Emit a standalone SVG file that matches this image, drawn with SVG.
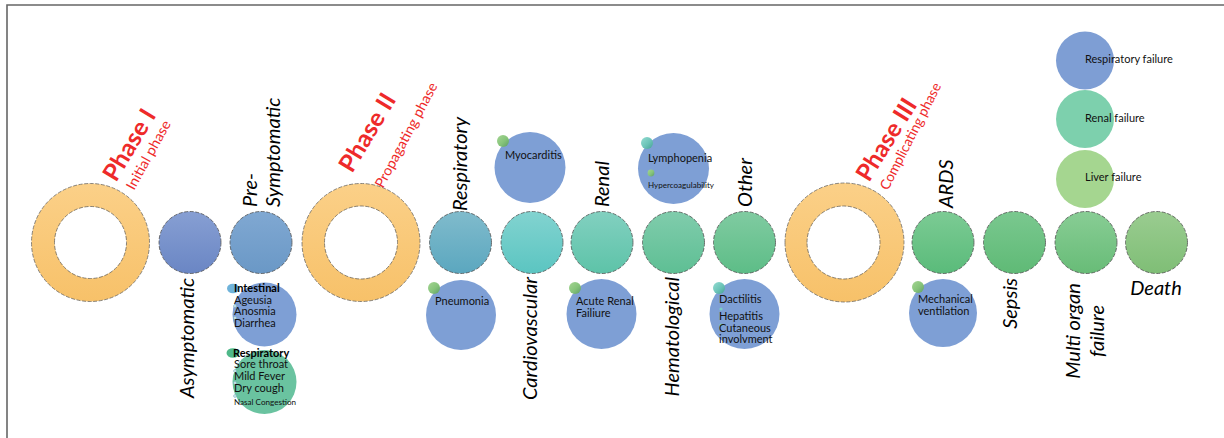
<svg xmlns="http://www.w3.org/2000/svg" width="1224" height="438" viewBox="0 0 1224 438">
<defs>
<linearGradient id="gRing" x1="0" y1="0" x2="0" y2="1"><stop offset="0" stop-color="#FBD088"/><stop offset="1" stop-color="#F7C169"/></linearGradient>
<linearGradient id="gAsym" x1="0" y1="0" x2="0" y2="1"><stop offset="0" stop-color="#879FD3"/><stop offset="1" stop-color="#6A86C4"/></linearGradient>
<linearGradient id="gPre" x1="0" y1="0" x2="0" y2="1"><stop offset="0" stop-color="#80A8D2"/><stop offset="1" stop-color="#6A98C6"/></linearGradient>
<linearGradient id="gResp" x1="0" y1="0" x2="0" y2="1"><stop offset="0" stop-color="#80BBCC"/><stop offset="1" stop-color="#5BA7BF"/></linearGradient>
<linearGradient id="gCard" x1="0" y1="0" x2="0" y2="1"><stop offset="0" stop-color="#82D3D0"/><stop offset="1" stop-color="#5BC5C1"/></linearGradient>
<linearGradient id="gRen" x1="0" y1="0" x2="0" y2="1"><stop offset="0" stop-color="#82D0C0"/><stop offset="1" stop-color="#5DC3A8"/></linearGradient>
<linearGradient id="gHem" x1="0" y1="0" x2="0" y2="1"><stop offset="0" stop-color="#80CCAC"/><stop offset="1" stop-color="#5EBF94"/></linearGradient>
<linearGradient id="gOth" x1="0" y1="0" x2="0" y2="1"><stop offset="0" stop-color="#80CBA1"/><stop offset="1" stop-color="#5DBD87"/></linearGradient>
<linearGradient id="gArds" x1="0" y1="0" x2="0" y2="1"><stop offset="0" stop-color="#7CCB94"/><stop offset="1" stop-color="#5ABB7A"/></linearGradient>
<linearGradient id="gSep" x1="0" y1="0" x2="0" y2="1"><stop offset="0" stop-color="#7AC88F"/><stop offset="1" stop-color="#5FBA76"/></linearGradient>
<linearGradient id="gMul" x1="0" y1="0" x2="0" y2="1"><stop offset="0" stop-color="#88CD95"/><stop offset="1" stop-color="#68BC77"/></linearGradient>
<linearGradient id="gDea" x1="0" y1="0" x2="0" y2="1"><stop offset="0" stop-color="#9ACC90"/><stop offset="1" stop-color="#7FBE76"/></linearGradient>
<linearGradient id="gDot" x1="0" y1="0" x2="1" y2="1"><stop offset="0" stop-color="#A4D593"/><stop offset="0.55" stop-color="#86C47A"/><stop offset="1" stop-color="#5E9E68"/></linearGradient>
<linearGradient id="gDotT" x1="0" y1="0" x2="1" y2="1"><stop offset="0" stop-color="#94DCD2"/><stop offset="0.55" stop-color="#6CC4B8"/><stop offset="1" stop-color="#46A195"/></linearGradient>
</defs>
<style>
.main{stroke:#4a4a4a;stroke-width:1;stroke-dasharray:4 1.6;stroke-opacity:0.75}
.ring{fill:url(#gRing);fill-rule:evenodd;stroke:#5a5a5a;stroke-width:1;stroke-dasharray:4 1.6;stroke-opacity:0.7}
.sub{fill:#7E9FD5}
.lbl{font-family:Lato,"Liberation Sans",sans-serif;font-style:italic;font-size:20px;fill:#000}
.ph{font-family:Lato,"Liberation Sans",sans-serif;font-weight:bold;font-size:24px;fill:#EE2A2A}
.phs{font-family:Lato,"Liberation Sans",sans-serif;font-size:14px;fill:#EE2A2A}
.t{font-family:Lato,"Liberation Sans",sans-serif;font-size:11px;fill:#111}
.tb{font-family:Lato,"Liberation Sans",sans-serif;font-size:11px;font-weight:bold;fill:#000}
.ts{font-family:Lato,"Liberation Sans",sans-serif;font-size:7.5px;fill:#111}
.tiny{fill:#D8F0F0;stroke:#7AB;stroke-width:0.6}
</style>
<rect width="1224" height="438" fill="#fff"/>
<path d="M7,438 V5 H1224" fill="none" stroke="#666" stroke-width="1.6"/>

<g id="phase1">
<path class="ring" d="M31.5,242.5 a59,59 0 1,0 118,0 a59,59 0 1,0 -118,0 Z M54.5,242.5 a36,36 0 1,1 72,0 a36,36 0 1,1 -72,0 Z"/>
<text class="ph" transform="translate(116,183) rotate(-59)" textLength="79" lengthAdjust="spacingAndGlyphs">Phase I</text>
<text class="phs" transform="translate(134,191) rotate(-61)" textLength="77" lengthAdjust="spacingAndGlyphs">Initial phase</text>
</g>
<g id="asymptomatic">
<circle class="main" cx="190" cy="242.5" r="31" fill="url(#gAsym)"/>
<text class="lbl" text-anchor="end" transform="translate(194,278) rotate(-90)">Asymptomatic</text>
</g>
<g id="presymptomatic">
<circle class="main" cx="261" cy="242.5" r="31" fill="url(#gPre)"/>
<text class="lbl" transform="translate(257,207) rotate(-90)">Pre-</text>
<text class="lbl" transform="translate(280,207) rotate(-90)">Symptomatic</text>
</g>
<g id="intestinal">
<circle class="sub" cx="264.5" cy="314.5" r="32"/>
<ellipse cx="233" cy="288.5" rx="6" ry="4.8" fill="#6FB3DA"/>
<text class="tb" x="234" y="292">Intestinal</text>
<text class="t" x="234" y="303.5">Ageusia</text>
<circle class="tiny" cx="235" cy="306" r="1.4"/>
<text class="t" x="234" y="315">Anosmia</text>
<circle class="tiny" cx="235" cy="318" r="1.4"/>
<text class="t" x="234" y="327">Diarrhea</text>
</g>
<g id="respiratory-sym">
<circle cx="264.5" cy="382" r="32" fill="#6AC3A0"/>
<ellipse cx="233" cy="353" rx="6.5" ry="4.8" fill="#4EB889"/>
<text class="tb" x="233" y="357">Respiratory</text>
<text class="t" x="234" y="368">Sore throat</text>
<circle class="tiny" cx="235" cy="371" r="1.4"/>
<text class="t" x="234" y="380">Mild Fever</text>
<circle class="tiny" cx="235" cy="383" r="1.4"/>
<text class="t" x="234" y="392">Dry cough</text>
<circle class="tiny" cx="235" cy="396" r="1.4"/>
<text class="ts" x="234" y="405" textLength="62" lengthAdjust="spacingAndGlyphs">Nasal Congestion</text>
</g>

<g id="phase2">
<path class="ring" d="M302,242.5 a59,59 0 1,0 118,0 a59,59 0 1,0 -118,0 Z M324.5,242.5 a36.5,36.5 0 1,1 73,0 a36.5,36.5 0 1,1 -73,0 Z"/>
<text class="ph" transform="translate(352,174) rotate(-59)" textLength="87" lengthAdjust="spacingAndGlyphs">Phase II</text>
<text class="phs" transform="translate(383,189) rotate(-62)" textLength="117" lengthAdjust="spacingAndGlyphs">Propagating phase</text>
</g>
<g id="respiratory">
<circle class="main" cx="460.5" cy="242.5" r="31" fill="url(#gResp)"/>
<text class="lbl" transform="translate(467,211) rotate(-90)">Respiratory</text>
</g>
<g id="pneumonia">
<circle class="sub" cx="461" cy="315" r="35"/>
<circle cx="434" cy="288" r="6" fill="url(#gDot)"/>
<text class="t" x="435" y="305">Pneumonia</text>
</g>
<g id="cardiovascular">
<circle class="main" cx="532" cy="242.5" r="31" fill="url(#gCard)"/>
<text class="lbl" text-anchor="end" transform="translate(537,277) rotate(-90)">Cardiovascular</text>
</g>
<g id="myocarditis">
<circle class="sub" cx="530" cy="167.5" r="35.5"/>
<circle cx="503" cy="141" r="6" fill="url(#gDot)"/>
<text class="t" x="505" y="159">Myocarditis</text>
</g>
<g id="renal">
<circle class="main" cx="602" cy="242.5" r="31" fill="url(#gRen)"/>
<text class="lbl" transform="translate(609,207) rotate(-90)">Renal</text>
</g>
<g id="acute-renal">
<circle class="sub" cx="601.5" cy="314" r="35"/>
<circle cx="575" cy="288" r="6" fill="url(#gDot)"/>
<text class="t" x="576" y="305">Acute Renal</text>
<text class="t" x="576" y="317">Failiure</text>
</g>
<g id="hematological">
<circle class="main" cx="673.5" cy="242.5" r="31" fill="url(#gHem)"/>
<text class="lbl" text-anchor="end" transform="translate(679,277) rotate(-90)">Hematological</text>
</g>
<g id="lymphopenia">
<circle class="sub" cx="673.5" cy="168.5" r="35.5"/>
<circle cx="647" cy="143" r="6" fill="url(#gDotT)"/>
<text class="t" x="648" y="162">Lymphopenia</text>
<circle cx="651" cy="173" r="3.4" fill="url(#gDot)"/>
<text class="ts" x="648" y="188" textLength="66" lengthAdjust="spacingAndGlyphs">Hypercoagulability</text>
</g>
<g id="other">
<circle class="main" cx="744.5" cy="242.5" r="31" fill="url(#gOth)"/>
<text class="lbl" transform="translate(752,207) rotate(-90)">Other</text>
</g>
<g id="dactilitis">
<circle class="sub" cx="744.5" cy="314" r="35"/>
<circle cx="719" cy="288" r="6" fill="url(#gDotT)"/>
<text class="t" x="719" y="303">Dactilitis</text>
<circle cx="721" cy="309" r="1.6" fill="#7CD0C6"/>
<text class="t" x="719" y="320" font-size="12">Hepatitis</text>
<circle cx="721" cy="325" r="1.6" fill="#7CD0C6"/>
<text class="t" x="719" y="332" font-size="10">Cutaneous</text>
<text class="t" x="719" y="343" font-size="10">involvment</text>
</g>

<g id="phase3">
<path class="ring" d="M785,242.5 a59.5,59.5 0 1,0 119,0 a59.5,59.5 0 1,0 -119,0 Z M807,242.5 a36.5,36.5 0 1,1 73,0 a36.5,36.5 0 1,1 -73,0 Z"/>
<text class="ph" transform="translate(869,183) rotate(-58)" textLength="92" lengthAdjust="spacingAndGlyphs">Phase III</text>
<text class="phs" transform="translate(888,191) rotate(-63)" textLength="118" lengthAdjust="spacingAndGlyphs">Complicating phase</text>
</g>
<g id="ards">
<circle class="main" cx="943" cy="242.5" r="31" fill="url(#gArds)"/>
<text class="lbl" transform="translate(953,208) rotate(-90)">ARDS</text>
</g>
<g id="mechanical">
<circle class="sub" cx="943" cy="313" r="34"/>
<circle cx="918" cy="287" r="6" fill="url(#gDot)"/>
<text class="t" x="918" y="303">Mechanical</text>
<text class="t" x="918" y="315">ventilation</text>
</g>
<g id="sepsis">
<circle class="main" cx="1014.5" cy="242.5" r="31" fill="url(#gSep)"/>
<text class="lbl" text-anchor="end" transform="translate(1017,278) rotate(-90)">Sepsis</text>
</g>
<g id="multi-organ">
<circle class="main" cx="1086" cy="242.5" r="31" fill="url(#gMul)"/>
<text class="lbl" text-anchor="middle" transform="translate(1080,331) rotate(-90)">Multi organ</text>
<text class="lbl" text-anchor="middle" transform="translate(1104,331) rotate(-90)">failure</text>
</g>
<g id="liver-failure">
<circle cx="1085" cy="179" r="29" fill="#A5D690"/>
<text class="t" x="1085" y="181" font-size="9.5">Liver failure</text>
</g>
<g id="renal-failure">
<circle cx="1085" cy="119" r="29" fill="#7DD0AD"/>
<text class="t" x="1085" y="122" font-size="9.5">Renal failure</text>
</g>
<g id="respiratory-failure">
<circle cx="1085" cy="60.5" r="29" fill="#7E9ED4"/>
<text class="t" x="1085" y="63" font-size="9.5">Respiratory failure</text>
</g>
<g id="death">
<circle class="main" cx="1156.5" cy="242.5" r="31" fill="url(#gDea)"/>
<text class="lbl" text-anchor="middle" x="1156" y="295">Death</text>
</g>
<g id="connectors"/>
</svg>
